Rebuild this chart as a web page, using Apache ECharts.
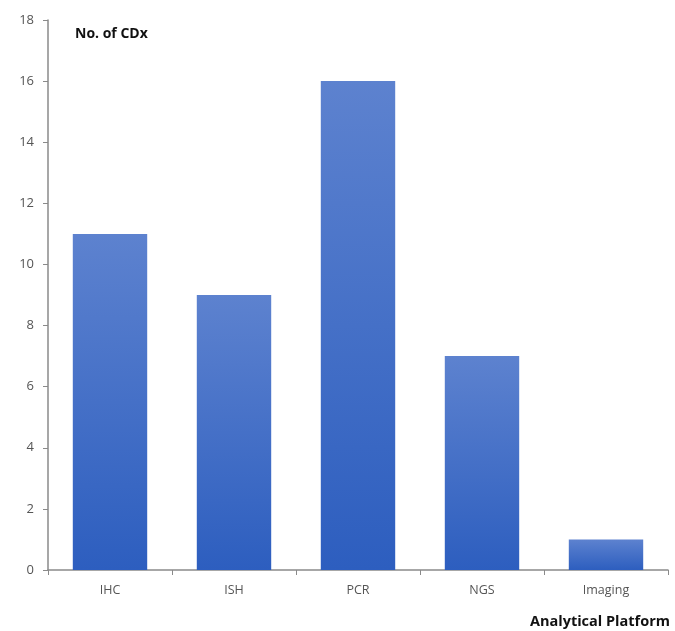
<!DOCTYPE html>
<html><head><meta charset="utf-8">
<script src="https://cdn.jsdelivr.net/npm/echarts@6/dist/echarts.min.js"></script>
<style>html,body{margin:0;padding:0;background:#fff}#c{width:675px;height:631px}</style>
</head><body><div id="c"></div>
<script>
const categories = ['IHC', 'ISH', 'PCR', 'NGS', 'Imaging'];
const values = [11, 9, 16, 7, 1];
const yTicks = { min: 0, max: 18, interval: 2 };
const yTitle = 'No. of CDx';
const xTitle = 'Analytical Platform';

const chart = echarts.init(document.getElementById('c'));
chart.setOption({
  animation: false,
  grid: { left: 48, right: 7, top: 20, bottom: 61 },
  graphic: [
    { type: 'text', left: 75, top: 27, style: { text: yTitle, font: 'bold 14px "Open Sans", sans-serif', fill: '#111' } },
    { type: 'text', right: 5, top: 614, style: { text: xTitle, font: 'bold 14.5px "Open Sans", sans-serif', fill: '#111' } }
  ],
  xAxis: {
    type: 'category', data: categories,
    axisLine: { lineStyle: { color: '#8a8a8a', width: 1.5 } },
    axisTick: { show: true, alignWithLabel: false, length: 5, lineStyle: { color: '#8a8a8a' } },
    axisLabel: { color: '#555', fontSize: 12.5, margin: 14, fontFamily: '"Open Sans", sans-serif' }
  },
  yAxis: {
    type: 'value', min: yTicks.min, max: yTicks.max, interval: yTicks.interval,
    axisLine: { show: true, lineStyle: { color: '#8a8a8a', width: 1.5 } },
    axisTick: { show: true, length: 5, lineStyle: { color: '#8a8a8a' } },
    splitLine: { show: false },
    axisLabel: { color: '#555', fontSize: 13, margin: 14, fontFamily: '"Open Sans", sans-serif' }
  },
  series: [{
    type: 'bar', data: values, barWidth: '60%',
    itemStyle: {
      color: new echarts.graphic.LinearGradient(0, 0, 0, 1, [
        { offset: 0, color: '#5d82cf' },
        { offset: 1, color: '#2d5ebf' }
      ])
    }
  }]
});
</script></body></html>
